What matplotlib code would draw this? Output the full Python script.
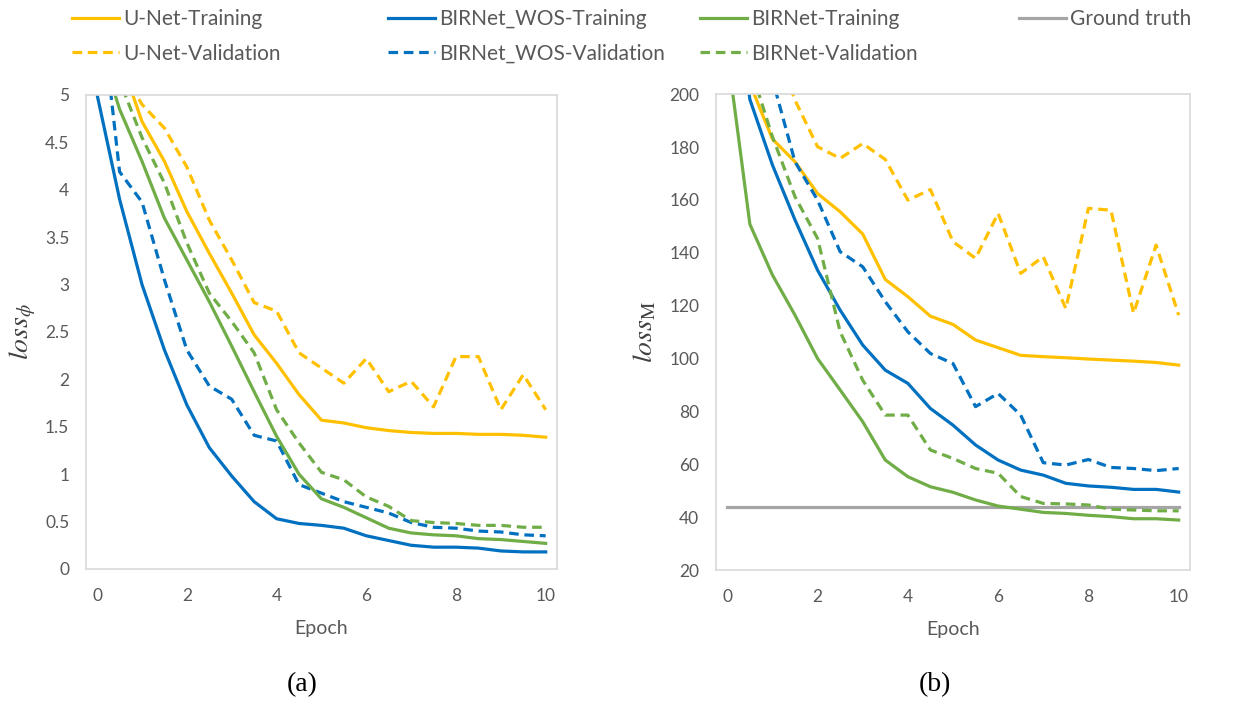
import numpy as np
from matplotlib import pyplot as plt
from matplotlib.lines import Line2D

# Epochs (every half epoch)
epochs = [0, 0.5, 1, 1.5, 2, 2.5, 3, 3.5, 4, 4.5, 5, 5.5, 6, 6.5, 7, 7.5, 8, 8.5, 9, 9.5, 10]

# (a) loss_phi
unet_train_phi = [6.0, 5.4, 4.72, 4.30, 3.77, 3.33, 2.91, 2.47, 2.17, 1.84, 1.57,
                  1.54, 1.49, 1.46, 1.44, 1.43, 1.43, 1.42, 1.42, 1.41, 1.39]
unet_val_phi = [6.3, 5.3, 4.9, 4.65, 4.24, 3.68, 3.26, 2.81, 2.72, 2.28, 2.12,
                1.96, 2.22, 1.87, 1.98, 1.71, 2.24, 2.24, 1.68, 2.05, 1.68]
wos_train_phi = [5.0, 3.9, 3.0, 2.31, 1.73, 1.28, 0.98, 0.71, 0.53, 0.48, 0.46,
                 0.43, 0.35, 0.30, 0.25, 0.23, 0.23, 0.22, 0.19, 0.18, 0.18]
wos_val_phi = [6.3, 4.19, 3.87, 3.05, 2.31, 1.93, 1.79, 1.41, 1.35, 0.89, 0.80,
               0.71, 0.65, 0.59, 0.49, 0.44, 0.43, 0.40, 0.39, 0.36, 0.35]
birnet_train_phi = [5.6, 4.85, 4.3, 3.7, 3.26, 2.82, 2.35, 1.87, 1.40, 1.0, 0.74,
                    0.65, 0.54, 0.43, 0.38, 0.36, 0.35, 0.32, 0.31, 0.29, 0.27]
birnet_val_phi = [6.2, 5.15, 4.55, 4.07, 3.44, 2.91, 2.61, 2.28, 1.68, 1.33, 1.02,
                  0.94, 0.76, 0.66, 0.51, 0.49, 0.48, 0.46, 0.46, 0.44, 0.44]

# (b) loss_M
unet_train_m = [240, 204, 183, 174.4, 162.4, 155.5, 147.1, 129.9, 123.4, 116.0, 112.9,
                107.0, 104.1, 101.2, 100.7, 100.3, 99.8, 99.4, 99.0, 98.5, 97.5]
unet_val_m = [320, 270, 221, 197.7, 180.1, 175.7, 181.3, 175.3, 159.9, 163.9, 144.2,
              137.9, 154.9, 132.2, 138.5, 118.9, 156.8, 156.1, 117.1, 142.9, 116.4]
wos_train_m = [260, 198, 173.2, 152.4, 133.4, 118.3, 105.1, 95.6, 90.6, 81.1, 74.8,
               67.3, 61.6, 57.8, 55.9, 52.8, 51.8, 51.3, 50.5, 50.5, 49.5]
wos_val_m = [300, 250, 205.6, 174.4, 159.9, 140.4, 134.7, 121.5, 110.1, 101.9, 98.1,
             81.8, 86.8, 78.6, 60.6, 59.7, 61.8, 58.8, 58.4, 57.6, 58.4]
birnet_train_m = [216, 150.8, 131.6, 116.4, 100.0, 88.1, 76.1, 61.6, 55.3, 51.5, 49.4,
                  46.5, 44.2, 43.0, 41.8, 41.4, 40.7, 40.2, 39.4, 39.4, 38.9]
birnet_val_m = [260, 210.7, 183.9, 161.2, 145.4, 110.1, 91.8, 78.6, 78.6, 65.4, 62.2,
                58.4, 56.6, 47.8, 45.2, 45.0, 44.6, 43.0, 42.7, 42.4, 42.4]
ground_truth_m = 44.0

C_UNET = '#FFC000'
C_WOS = '#0070C0'
C_BIR = '#70AD47'
C_GT = '#A5A5A5'
TXT = '#595959'
LW = 2.3
DASH = (0, (3, 1.8))

plt.rcParams['font.family'] = ['Lato', 'DejaVu Sans']
plt.rcParams['mathtext.fontset'] = 'stix'

fig = plt.figure(figsize=(12.42, 7.04), dpi=100)
ax1 = fig.add_axes([0.0692, 0.1918, 0.3792, 0.6733])
ax2 = fig.add_axes([0.5765, 0.1903, 0.3816, 0.676])

series_phi = [unet_train_phi, unet_val_phi, wos_train_phi, wos_val_phi,
              birnet_train_phi, birnet_val_phi]
series_m = [unet_train_m, unet_val_m, wos_train_m, wos_val_m,
            birnet_train_m, birnet_val_m]
colors = [C_UNET, C_UNET, C_WOS, C_WOS, C_BIR, C_BIR]
styles = ['-', DASH, '-', DASH, '-', DASH]

for vals, c, ls in zip(series_phi, colors, styles):
    ax1.plot(epochs, vals, color=c, linestyle=ls, linewidth=LW)

ax2.plot(epochs, [ground_truth_m] * len(epochs), color=C_GT, linewidth=LW)
for vals, c, ls in zip(series_m, colors, styles):
    ax2.plot(epochs, vals, color=c, linestyle=ls, linewidth=LW)

ax1.set_ylim(0, 5)
ax1.set_yticks(np.arange(0, 5.01, 0.5))
ax1.set_yticklabels(['0', '0.5', '1', '1.5', '2', '2.5', '3', '3.5', '4', '4.5', '5'])
ax2.set_ylim(20, 200)
ax2.set_yticks(np.arange(20, 201, 20))

for ax in (ax1, ax2):
    ax.set_xlim(-0.25, 10.25)
    ax.set_xticks([0, 2, 4, 6, 8, 10])
    for sp in ax.spines.values():
        sp.set_color('#D9D9D9')
        sp.set_linewidth(1.2)
    ax.tick_params(axis='both', length=0, labelsize=12.5, labelcolor=TXT)
    ax.tick_params(axis='y', pad=12)
    ax.tick_params(axis='x', pad=14)
    ax.set_xlabel('Epoch', fontsize=14, color=TXT)
    ax.xaxis.set_label_coords(0.5, -0.125)
    ax.xaxis.label.set_va('center')

ax1.set_ylabel(r'$loss_{\phi}$', fontsize=20, color='#404040')
ax1.yaxis.set_label_coords(-0.135, 0.5)
ax1.yaxis.label.set_va('center')
ax2.set_ylabel(r'$loss_{\mathrm{M}}$', fontsize=20, color='#404040')
ax2.yaxis.set_label_coords(-0.15, 0.5)
ax2.yaxis.label.set_va('center')

fig.text(0.243, 0.027, '(a)', fontsize=20, family='Liberation Serif', ha='center', va='center')
fig.text(0.753, 0.027, '(b)', fontsize=20, family='Liberation Serif', ha='center', va='center')

# Legend, four columns placed across the top
legend_cols = [
    [('U-Net-Training', C_UNET, '-'), ('U-Net-Validation', C_UNET, DASH)],
    [('BIRNet_WOS-Training', C_WOS, '-'), ('BIRNet_WOS-Validation', C_WOS, DASH)],
    [('BIRNet-Training', C_BIR, '-'), ('BIRNet-Validation', C_BIR, DASH)],
    [('Ground truth', C_GT, '-')],
]
col_x = [72, 388, 700, 1019]
for x0, entries in zip(col_x, legend_cols):
    handles = [Line2D([], [], color=c, linestyle=ls, linewidth=LW) for _, c, ls in entries]
    labels = [t for t, _, _ in entries]
    leg = fig.legend(handles, labels, loc='upper left',
                     bbox_to_anchor=(x0 / 1242, 1 - 9 / 704),
                     frameon=False, fontsize=15, handlelength=2.25, handletextpad=0.2,
                     labelspacing=0.7, borderaxespad=0.0, borderpad=0.0)
    for t in leg.get_texts():
        t.set_color(TXT)

plt.savefig('out.png', dpi=100)
